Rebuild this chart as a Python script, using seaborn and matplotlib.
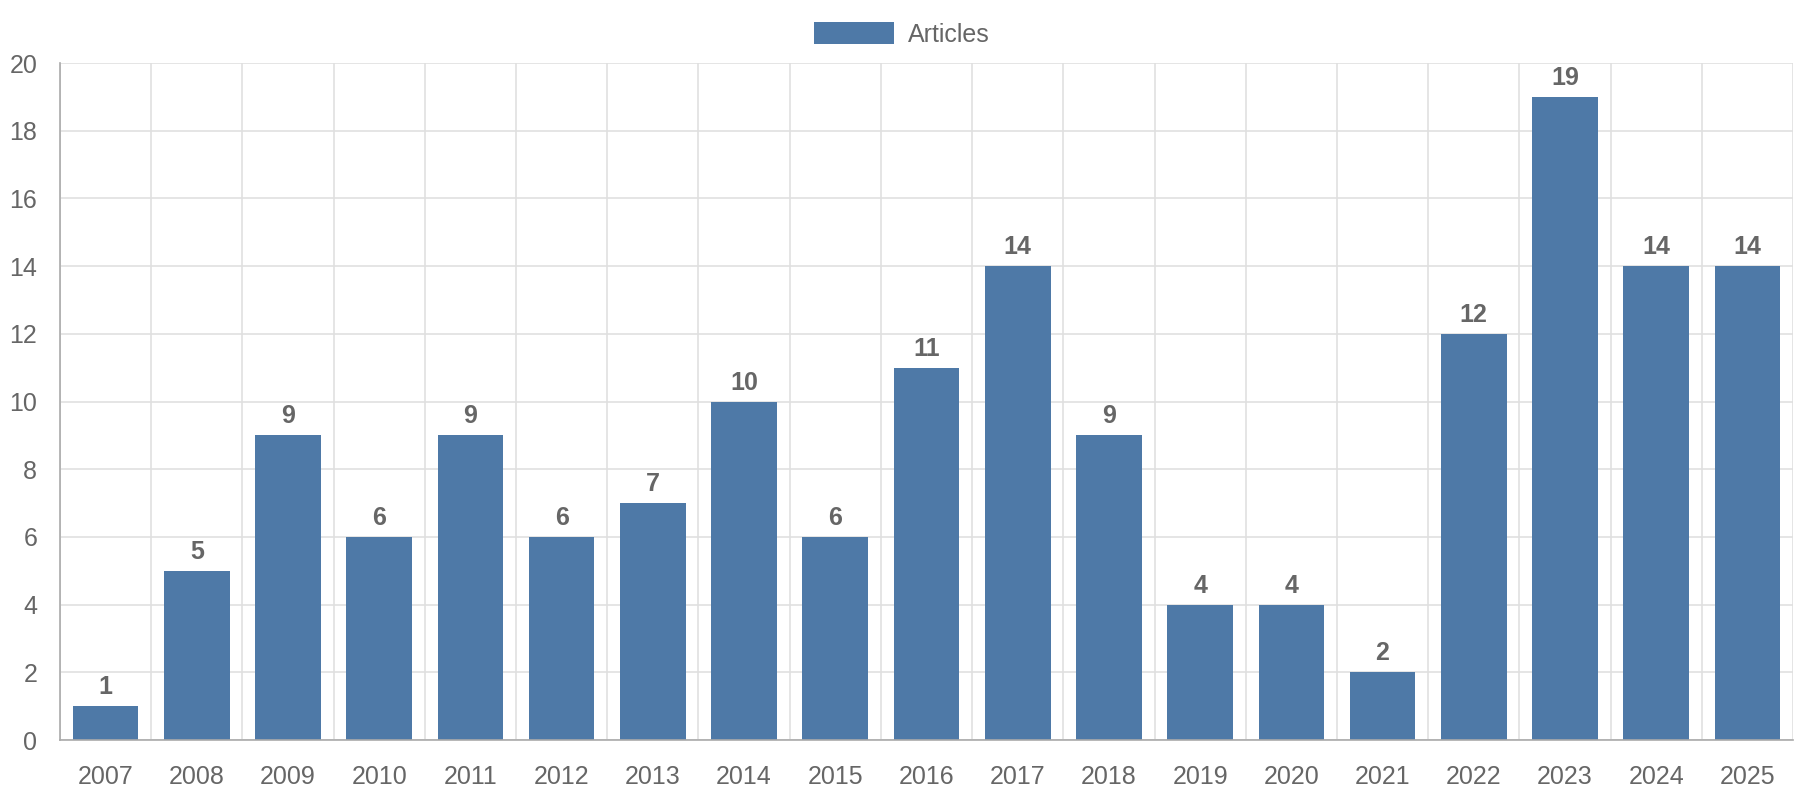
import numpy as np
import pandas as pd
import matplotlib
matplotlib.use("Agg")
import matplotlib.pyplot as plt
import seaborn as sns

years = [str(y) for y in range(2007, 2026)]
articles = [1, 5, 9, 6, 9, 6, 7, 10, 6, 11, 14, 9, 4, 4, 2, 12, 19, 14, 14]

sns.set_style("white")
plt.rcParams["font.family"] = ["Liberation Sans", "DejaVu Sans"]

text_col = "#666666"
grid_col = "#e0e0e0"
axis_col = "#aaaaaa"
bar_col = "#4e79a7"
fs = 18

df = pd.DataFrame({"year": years, "articles": articles})

fig = plt.figure(figsize=(18, 8), dpi=100)
ax = fig.add_axes([60 / 1800, 1 - 740 / 800, 1733 / 1800, 677 / 800])

sns.barplot(data=df, x="year", y="articles", color=bar_col, width=0.72,
            saturation=1, linewidth=0, ax=ax, label="Articles")

ax.set_xlim(-0.5, len(years) - 0.5)
ax.set_ylim(0, 20)
ax.set_yticks(np.arange(0, 21, 2))
ax.set_xticks(np.arange(-0.5, len(years), 1), minor=True)
ax.set_xlabel("")
ax.set_ylabel("")

ax.grid(False)
ax.yaxis.grid(True, color=grid_col, linewidth=1.2)
ax.xaxis.grid(True, which="minor", color=grid_col, linewidth=1.2)
ax.set_axisbelow(True)

ax.tick_params(axis="y", length=14.4, width=1.2, color=grid_col, pad=2,
               labelsize=fs, labelcolor=text_col)
ax.tick_params(axis="x", which="major", length=0, pad=18,
               labelsize=fs, labelcolor=text_col)
ax.tick_params(axis="x", which="minor", length=14.4, width=1.2, color=grid_col)

for side in ["top", "right"]:
    ax.spines[side].set_visible(False)
ax.spines["left"].set_color(axis_col)
ax.spines["bottom"].set_color(axis_col)
ax.spines["left"].set_linewidth(1.2)
ax.spines["bottom"].set_linewidth(1.2)

ax.bar_label(ax.containers[0], labels=[str(v) for v in articles], padding=5,
             fontsize=fs, fontweight="bold", color=text_col)

leg = ax.legend(loc="upper center", bbox_to_anchor=(0.5 - 0.014, 1.094),
                frameon=False, fontsize=fs, labelcolor=text_col,
                handlelength=3.2, handleheight=1.0, handletextpad=0.55)

fig.savefig("out.png", dpi=100)
